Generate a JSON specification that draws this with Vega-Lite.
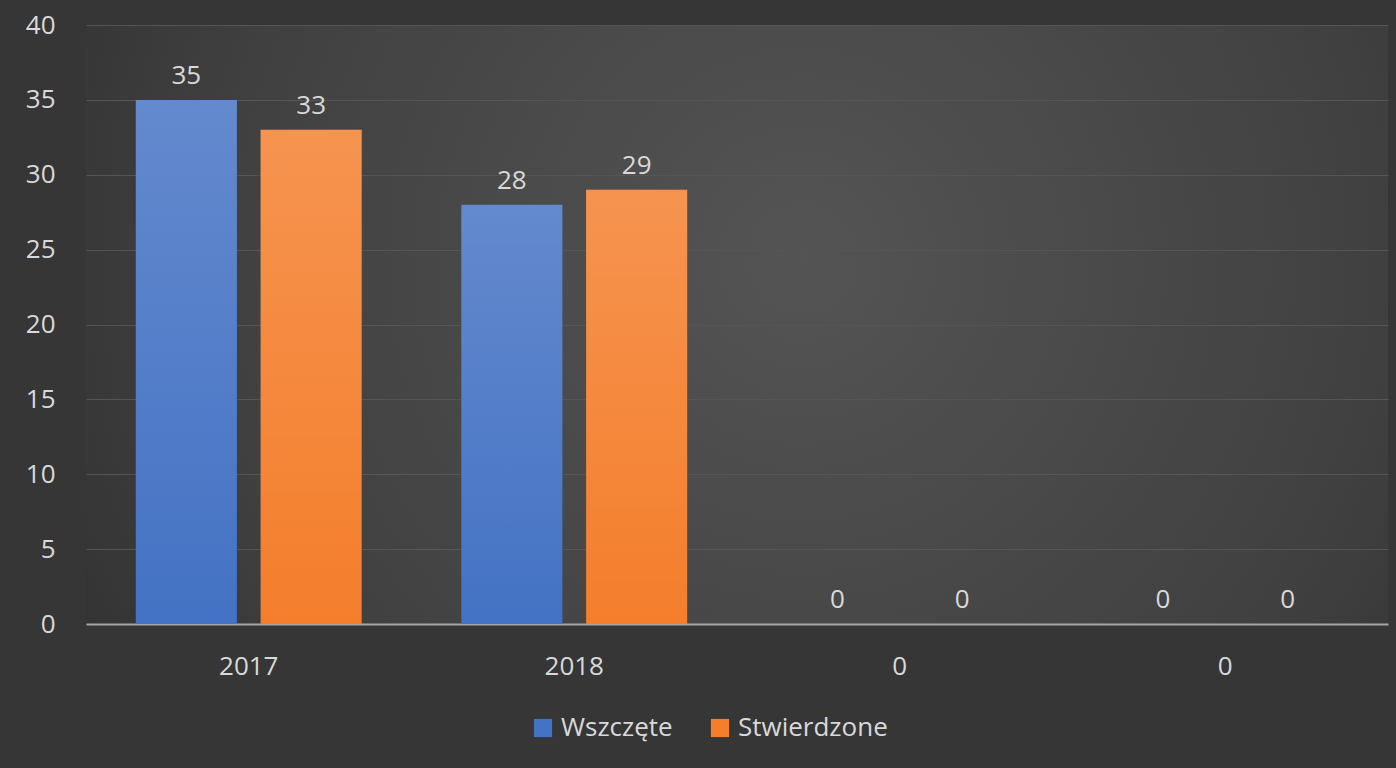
{
  "$schema": "https://vega.github.io/schema/vega-lite/v6.json",
  "width": 1302,
  "height": 599,
  "autosize": "none",
  "padding": {"left": 86, "top": 25, "right": 8, "bottom": 144},
  "background": "#363636",
  "config": {
    "font": "Open Sans",
    "view": {
      "stroke": null,
      "fill": {
        "gradient": "radial",
        "x1": 0.55, "y1": 0.45, "r1": 0,
        "x2": 0.55, "y2": 0.45, "r2": 0.75,
        "stops": [
          {"offset": 0, "color": "#545454"},
          {"offset": 0.6, "color": "#404040"},
          {"offset": 1, "color": "#2a2a2a"}
        ]
      }
    },
    "axis": {"labelColor": "#d9d9d9", "labelFontSize": 26, "titleColor": "#d9d9d9"},
    "legend": {"labelColor": "#d9d9d9", "labelFontSize": 26}
  },
  "data": {
    "values": [
      {"kategoria": "2017", "seria": "Wszczęte", "wartosc": 35},
      {"kategoria": "2017", "seria": "Stwierdzone", "wartosc": 33},
      {"kategoria": "2018", "seria": "Wszczęte", "wartosc": 28},
      {"kategoria": "2018", "seria": "Stwierdzone", "wartosc": 29},
      {"kategoria": "0a", "seria": "Wszczęte", "wartosc": 0},
      {"kategoria": "0a", "seria": "Stwierdzone", "wartosc": 0},
      {"kategoria": "0b", "seria": "Wszczęte", "wartosc": 0},
      {"kategoria": "0b", "seria": "Stwierdzone", "wartosc": 0}
    ]
  },
  "encoding": {
    "x": {
      "field": "kategoria",
      "type": "nominal",
      "sort": ["2017", "2018", "0a", "0b"],
      "title": null,
      "scale": {"paddingInner": 0.306, "paddingOuter": 0.153},
      "axis": {
        "labelAngle": 0,
        "labelExpr": "indexof(['0a','0b'], datum.value) >= 0 ? '0' : datum.value",
        "ticks": false,
        "domainColor": "#a6a6a6",
        "domainWidth": 2,
        "labelPadding": 29,
        "grid": false
      }
    },
    "xOffset": {
      "field": "seria",
      "type": "nominal",
      "sort": ["Wszczęte", "Stwierdzone"],
      "scale": {"paddingInner": 0.19, "paddingOuter": 0}
    },
    "y": {
      "field": "wartosc",
      "type": "quantitative",
      "title": null,
      "scale": {"domain": [0, 40], "nice": false},
      "axis": {
        "values": [0, 5, 10, 15, 20, 25, 30, 35, 40],
        "domain": false,
        "ticks": false,
        "gridColor": "#555555",
        "gridWidth": 1.2,
        "labelPadding": 31
      }
    }
  },
  "layer": [
    {
      "mark": {"type": "bar"},
      "encoding": {
        "color": {
          "field": "seria",
          "type": "nominal",
          "sort": ["Wszczęte", "Stwierdzone"],
          "scale": {"domain": ["Wszczęte", "Stwierdzone"], "range": ["#4472C4", "#F47E2C"]},
          "legend": {
            "title": null,
            "orient": "none",
            "legendX": 444,
            "legendY": 690,
            "direction": "horizontal",
            "symbolType": "square",
            "symbolSize": 330,
            "symbolStrokeWidth": 0,
            "labelOffset": 5,
            "columnPadding": 34
          }
        }
      }
    },
    {
      "mark": {
        "type": "bar",
        "fill": {
          "gradient": "linear",
          "x1": 0, "y1": 0, "x2": 0, "y2": 1,
          "stops": [
            {"offset": 0, "color": "rgba(255,255,255,0.17)"},
            {"offset": 1, "color": "rgba(255,255,255,0)"}
          ]
        }
      }
    },
    {
      "mark": {"type": "text", "baseline": "alphabetic", "dy": -16, "fontSize": 26, "color": "#d9d9d9"},
      "encoding": {"text": {"field": "wartosc", "type": "quantitative"}}
    }
  ]
}
